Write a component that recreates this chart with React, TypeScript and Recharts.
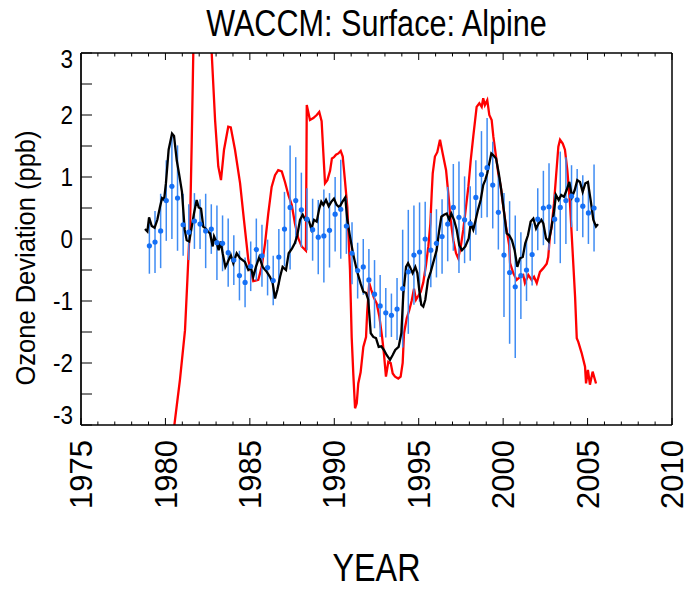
import { ComposedChart, Line, Scatter, XAxis, YAxis, ErrorBar } from "recharts";

const FONT = "'Liberation Sans', Arial, Helvetica, sans-serif";

const xTicks = [
  1975, 1976, 1977, 1978, 1979, 1980, 1981, 1982, 1983, 1984, 1985, 1986,
  1987, 1988, 1989, 1990, 1991, 1992, 1993, 1994, 1995, 1996, 1997, 1998,
  1999, 2000, 2001, 2002, 2003, 2004, 2005, 2006, 2007, 2008, 2009, 2010,
];
const xLabels = [1975, 1980, 1985, 1990, 1995, 2000, 2005, 2010];
const yTicks = [-3, -2.5, -2, -1.5, -1, -0.5, 0, 0.5, 1, 1.5, 2, 2.5, 3];
const yLabels = [-3, -2, -1, 0, 1, 2, 3];

// observations: one point every 4 months from early 1979
const obsStart = 1979.05;
const obsStep = 1 / 3;
const obsVals = [
  -0.11, -0.05, 0.13, 0.62, 0.85, 0.66, 0.23, 0.11, 0.29, 0.24,
  0.13, 0.16, -0.06, -0.07, -0.22, -0.34, -0.59, -0.7, -0.44, -0.17,
  -0.27, -0.46, -0.67, -0.29, 0.16, 0.51, 0.62, 0.47, 0.32, 0.15,
  0.03, 0.05, 0.14, 0.4, 0.48, 0.21, -0.23, -0.51, -0.45, -0.66,
  -0.89, -1.08, -1.19, -1.23, -1.13, -0.8, -0.53, -0.26, -0.21, 0.0,
  -0.18, -0.07, 0.04, 0.24, 0.51, 0.35, 0.31, 0.25, 0.67, 1.04,
  1.15, 0.87, 0.43, -0.26, -0.54, -0.77, -0.59, -0.5, -0.25, 0.32,
  0.5, 0.52, 0.32, 0.51, 0.62, 0.69, 0.63, 0.53, 0.42, 0.5,
];
const obsErr = [
  0.45, 0.5, 0.6, 0.65, 0.85, 0.85, 0.5, 0.45, 0.45, 0.4,
  0.6, 0.4, 0.6, 0.45, 0.55, 0.4, 0.4, 0.4, 0.4, 0.5,
  0.5, 0.45, 0.4, 0.45, 0.6, 1.0, 0.7, 0.6, 0.5, 0.5,
  0.6, 0.75, 0.6, 0.6, 0.8, 0.45, 0.5, 0.45, 0.45, 0.5,
  0.55, 0.5, 0.4, 0.35, 0.5, 0.95, 1.0, 0.8, 0.8, 0.6,
  0.6, 0.55, 0.6, 0.6, 0.7, 0.9, 0.7, 0.6, 0.6, 0.7,
  0.8, 0.7, 0.6, 1.0, 1.15, 1.15, 0.7, 0.5, 0.5, 0.5,
  0.6, 0.7, 0.4, 0.9, 0.7, 0.5, 0.5, 0.5, 0.5, 0.7,
];

// model (black)
const blackYears = [
  1978.79, 1978.93, 1979.03, 1979.19, 1979.36, 1979.52, 1979.68, 1979.8, 1979.92, 1980.03,
  1980.19, 1980.39, 1980.51, 1980.67, 1980.82, 1980.98, 1981.14, 1981.26, 1981.41, 1981.56,
  1981.69, 1981.85, 1981.97, 1982.11, 1982.24, 1982.38, 1982.52, 1982.64, 1982.8, 1982.88,
  1983.04, 1983.15, 1983.27, 1983.39, 1983.55, 1983.66, 1983.87, 1984.02, 1984.22, 1984.42,
  1984.71, 1984.91, 1985.07, 1985.2, 1985.36, 1985.56, 1985.76, 1986.0, 1986.19, 1986.35,
  1986.49, 1986.63, 1986.79, 1986.94, 1987.14, 1987.3, 1987.5, 1987.66, 1987.81, 1987.97,
  1988.13, 1988.28, 1988.48, 1988.64, 1988.8, 1988.96, 1989.11, 1989.23, 1989.35, 1989.51,
  1989.67, 1989.82, 1989.98, 1990.14, 1990.3, 1990.46, 1990.65, 1990.77, 1990.93, 1991.13,
  1991.33, 1991.56, 1991.72, 1991.88, 1992.01, 1992.16, 1992.31, 1992.47, 1992.63, 1992.78,
  1992.94, 1993.1, 1993.3, 1993.46, 1993.61, 1993.81, 1993.97, 1994.09, 1994.25, 1994.37,
  1994.48, 1994.64, 1994.8, 1994.92, 1995.03, 1995.15, 1995.27, 1995.39, 1995.55, 1995.71,
  1995.9, 1996.06, 1996.22, 1996.34, 1996.5, 1996.66, 1996.81, 1996.93, 1997.09, 1997.25,
  1997.4, 1997.56, 1997.76, 1997.96, 1998.08, 1998.23, 1998.35, 1998.51, 1998.67, 1998.82,
  1998.94, 1999.06, 1999.18, 1999.3, 1999.42, 1999.58, 1999.74, 1999.89, 2000.05, 2000.21,
  2000.36, 2000.52, 2000.68, 2000.84, 2001.0, 2001.16, 2001.31, 2001.47, 2001.63, 2001.79,
  2001.95, 2002.1, 2002.26, 2002.38, 2002.54, 2002.7, 2002.85, 2003.01, 2003.13, 2003.29,
  2003.44, 2003.6, 2003.76, 2003.92, 2004.08, 2004.24, 2004.39, 2004.55, 2004.71, 2004.87,
  2005.02, 2005.18, 2005.34, 2005.5, 2005.62,
];
const blackVals = [
  0.16, 0.12, 0.35, 0.21, 0.18, 0.31, 0.52, 0.66, 0.63, 0.9,
  1.44, 1.7, 1.66, 1.27, 1.03, 0.76, 0.15, -0.02, -0.04, 0.2,
  0.41, 0.63, 0.51, 0.49, 0.2, 0.17, 0.12, 0.09, -0.12, 0.04,
  -0.06, -0.18, -0.04, -0.23, -0.45, -0.39, -0.26, -0.39, -0.23, -0.31,
  -0.37, -0.5, -0.47, -0.61, -0.45, -0.29, -0.45, -0.53, -0.61, -0.71,
  -0.96, -0.82, -0.61, -0.45, -0.5, -0.23, -0.15, -0.07, 0.06, 0.31,
  0.39, 0.31, 0.31, 0.16, 0.31, 0.28, 0.49, 0.6, 0.55, 0.63,
  0.53, 0.6, 0.65, 0.55, 0.51, 0.59, 0.67, 0.31, 0.04, -0.26,
  -0.5, -0.72, -0.85, -0.87, -0.98, -1.52, -1.58, -1.6, -1.74, -1.73,
  -1.79, -1.87, -1.95, -1.87, -1.79, -1.74, -1.52, -0.88, -0.45, -0.39,
  -0.45, -0.55, -0.45, -0.55, -0.82, -1.06, -1.09, -0.98, -0.66, -0.53,
  -0.34, -0.18, 0.15, 0.36, 0.39, 0.41, 0.31, 0.41, 0.31, 0.15,
  -0.1, -0.18, -0.12, 0.01, 0.25, 0.15, 0.28, 0.47, 0.63, 0.87,
  0.95, 1.06, 1.22, 1.38, 1.35, 1.3, 1.06, 0.79, 0.44, 0.09,
  0.06, -0.02, -0.18, -0.45, -0.31, -0.29, -0.07, 0.06, 0.28, 0.33,
  0.17, 0.25, 0.31, 0.25, 0.01, -0.04, 0.17, 0.44, 0.71, 0.63,
  0.71, 0.68, 0.79, 0.92, 0.68, 0.79, 0.95, 0.92, 0.76, 0.9,
  0.92, 0.63, 0.31, 0.2, 0.24,
];

// second model (red), runs off the axis range in 1980-1982
const redYears = [
  1980.27, 1980.53, 1980.86, 1981.16, 1981.3, 1981.4, 1981.46, 1981.56, 1981.65, 1981.9,
  1982.2, 1982.5, 1982.74, 1982.94, 1983.13, 1983.29, 1983.47, 1983.72, 1983.87, 1984.12,
  1984.42, 1984.65, 1984.91, 1985.2, 1985.5, 1985.7, 1985.9, 1986.09, 1986.29, 1986.49,
  1986.68, 1986.89, 1987.08, 1987.28, 1987.48, 1987.67, 1987.87, 1988.07, 1988.32, 1988.37,
  1988.56, 1988.76, 1988.96, 1989.11, 1989.25, 1989.35, 1989.45, 1989.59, 1989.75, 1989.86,
  1989.98, 1990.1, 1990.24, 1990.38, 1990.5, 1990.63, 1990.77, 1990.93, 1991.03, 1991.13,
  1991.23, 1991.33, 1991.42, 1991.56, 1991.72, 1991.88, 1991.95, 1992.07, 1992.19, 1992.35,
  1992.51, 1992.67, 1992.83, 1992.94, 1993.06, 1993.2, 1993.34, 1993.46, 1993.6, 1993.79,
  1993.93, 1994.05, 1994.13, 1994.29, 1994.44, 1994.58, 1994.72, 1994.84, 1994.97, 1995.12,
  1995.27, 1995.43, 1995.57, 1995.69, 1995.77, 1995.83, 1995.96, 1996.1, 1996.26, 1996.42,
  1996.62, 1996.75, 1996.89, 1997.05, 1997.21, 1997.34, 1997.49, 1997.64, 1997.8, 1997.94,
  1998.08, 1998.23, 1998.43, 1998.59, 1998.73, 1998.82, 1998.92, 1999.06, 1999.18, 1999.32,
  1999.42, 1999.58, 1999.71, 1999.86, 2000.01, 2000.17, 2000.36, 2000.41, 2000.6, 2000.8,
  2001.0, 2001.19, 2001.29, 2001.49, 2001.69, 2001.83, 2001.99, 2002.18, 2002.38, 2002.58,
  2002.67, 2002.77, 2002.87, 2003.01, 2003.13, 2003.27, 2003.37, 2003.53, 2003.66, 2003.8,
  2003.96, 2004.12, 2004.26, 2004.36, 2004.45, 2004.65, 2004.85, 2004.91, 2005.02, 2005.14,
  2005.3, 2005.5,
];
const redVals = [
  -3.6, -3.0, -2.27, -1.47, -0.66, -0.06, 0.25, 1.6, 3.0, 4.3,
  4.6, 4.0, 3.0, 1.92, 1.17, 0.95, 1.44, 1.81, 1.8, 1.44,
  0.9, 0.31, -0.34, -0.68, -0.66, -0.45, -0.07, 0.41, 0.84, 1.03,
  1.11, 1.09, 0.92, 0.71, 0.55, 0.25, 0.01, -0.12, -0.19, 2.16,
  1.92, 1.95, 2.0, 2.05, 1.9, 1.4, 0.9, 0.95, 1.1, 1.3,
  1.32, 1.36, 1.38, 1.42, 1.33, 0.95, 0.52, -0.5, -1.58, -2.2,
  -2.73, -2.65, -2.33, -2.15, -1.74, -1.58, -1.17, -0.71, -0.82, -0.95,
  -1.04, -1.25, -1.58, -1.85, -2.22, -1.98, -2.0, -2.17, -2.22, -2.25,
  -2.22, -2.0, -1.52, -1.28, -1.15, -1.0, -0.8, -0.98, -0.92, -0.85,
  -0.7, -0.42, -0.12, 0.25, 0.74, 1.06, 1.33, 1.4, 1.6, 1.38,
  1.11, 0.74, 0.31, -0.02, -0.23, -0.31, -0.12, 0.15, 0.52, 0.84,
  1.27, 1.65, 2.13, 2.19, 2.13, 2.27, 2.16, 2.24, 2.0, 1.92,
  1.65, 1.33, 1.06, 0.84, 0.52, 0.2, -0.1, -0.39, -0.55, -0.66,
  -0.61, -0.58, -0.71, -0.58, -0.66, -0.61, -0.71, -0.53, -0.47, -0.4,
  -0.29, 0.04, 0.2, 0.57, 1.0, 1.49, 1.6, 1.54, 1.44, 1.11,
  0.57, -0.23, -0.93, -1.6, -1.66, -1.84, -2.06, -2.33, -2.11, -2.35,
  -2.14, -2.33,
];

const obsData = obsVals.map((v, i) => ({ year: obsStart + i * obsStep, val: v, err: obsErr[i] }));
const blackData = blackYears.map((y, i) => ({ year: y, val: blackVals[i] }));
const redData = redYears.map((y, i) => ({ year: y, val: redVals[i] }));

const BottomTick = (props: any) => {
  const { x, y, payload } = props;
  const major = xLabels.includes(payload.value);
  return (
    <g>
      <line x1={x} x2={x} y1={y} y2={y - (major ? 7 : 3.5)} stroke="#000" strokeWidth={1} />
      {major && (
        <text
          transform={`translate(${x},${y + 15}) rotate(-90)`}
          textAnchor="end"
          dy="0.36em"
          fontSize={31}
          fontFamily={FONT}
          fill="#000"
        >
          {payload.value}
        </text>
      )}
    </g>
  );
};

const TopTick = (props: any) => {
  const { x, y, payload } = props;
  const major = xLabels.includes(payload.value);
  return <line x1={x} x2={x} y1={y} y2={y + (major ? 7 : 3.5)} stroke="#000" strokeWidth={1} />;
};

const LeftTick = (props: any) => {
  const { x, y, payload } = props;
  const v = payload.value;
  const shown = yLabels.includes(v);
  const shift = v === 3 ? 6 : v === -3 ? -10 : 0;
  return (
    <g>
      <line x1={x} x2={x + 11} y1={y} y2={y} stroke="#000" strokeWidth={1} />
      {shown && (
        <text
          transform={`translate(${x - 8},${y + shift}) scale(0.9,1)`}
          textAnchor="end"
          dy="0.36em"
          fontSize={25}
          fontFamily={FONT}
          fill="#000"
        >
          {v}
        </text>
      )}
    </g>
  );
};

const Dot = (props: any) => <circle cx={props.cx} cy={props.cy} r={2.6} fill="#1670f5" />;

export default function App() {
  return (
    <div style={{ position: "absolute", left: 0, top: 0, width: 690, height: 590, background: "#fff" }}>
      <ComposedChart width={690} height={590} margin={{ top: 52, right: 17, bottom: 0, left: 0 }}>
        <XAxis
          xAxisId="b"
          dataKey="year"
          type="number"
          domain={[1975, 2010]}
          ticks={xTicks}
          interval={0}
          allowDataOverflow
          height={165}
          tickSize={0}
          tickMargin={0}
          tickLine={false}
          tick={<BottomTick />}
          axisLine={{ stroke: "#000", strokeWidth: 1.5 }}
        />
        <XAxis
          xAxisId="t"
          orientation="top"
          dataKey="year"
          type="number"
          domain={[1975, 2010]}
          ticks={xTicks}
          interval={0}
          allowDataOverflow
          height={1}
          tickSize={0}
          tickMargin={0}
          tickLine={false}
          tick={<TopTick />}
          axisLine={{ stroke: "#000", strokeWidth: 1.5 }}
        />
        <YAxis
          yAxisId="l"
          type="number"
          domain={[-3, 3]}
          ticks={yTicks}
          interval={0}
          allowDataOverflow
          width={81}
          tickSize={0}
          tickMargin={0}
          tickLine={false}
          tick={<LeftTick />}
          axisLine={{ stroke: "#222", strokeWidth: 2 }}
        />
        <YAxis
          yAxisId="r"
          orientation="right"
          type="number"
          domain={[-3, 3]}
          width={1}
          tick={false}
          tickLine={false}
          axisLine={{ stroke: "#000", strokeWidth: 1.5 }}
        />
        <Line
          xAxisId="b"
          yAxisId="l"
          data={redData}
          dataKey="val"
          type="linear"
          stroke="#ff0000"
          strokeWidth={2.3}
          dot={false}
          isAnimationActive={false}
        />
        <Scatter
          xAxisId="b"
          yAxisId="l"
          data={obsData}
          dataKey="val"
          shape={<Dot />}
          isAnimationActive={false}
        >
          <ErrorBar dataKey="err" direction="y" width={0} stroke="#3f8cf3" strokeWidth={1.5} />
        </Scatter>
        <Line
          xAxisId="b"
          yAxisId="l"
          data={blackData}
          dataKey="val"
          type="linear"
          stroke="#000"
          strokeWidth={2.3}
          dot={false}
          isAnimationActive={false}
        />
      </ComposedChart>
      <div
        style={{
          position: "absolute", left: 81, width: 591, top: 6, textAlign: "center",
          fontFamily: FONT, fontSize: 36, lineHeight: "36px", whiteSpace: "nowrap",
          transform: "scaleX(0.85)",
        }}
      >
        WACCM: Surface: Alpine
      </div>
      <div
        style={{
          position: "absolute", left: 81, width: 591, top: 549, height: 38, textAlign: "center",
          fontFamily: FONT, fontSize: 38, lineHeight: "38px", whiteSpace: "nowrap",
          transform: "scaleX(0.85)",
        }}
      >
        YEAR
      </div>
      <div
        style={{
          position: "absolute", left: 26 - 160, width: 320, top: 258 - 14, height: 28,
          textAlign: "center", fontFamily: FONT, fontSize: 28, lineHeight: "28px",
          whiteSpace: "nowrap", transform: "rotate(-90deg) scaleX(0.91)",
        }}
      >
        Ozone Deviation (ppb)
      </div>
    </div>
  );
}
